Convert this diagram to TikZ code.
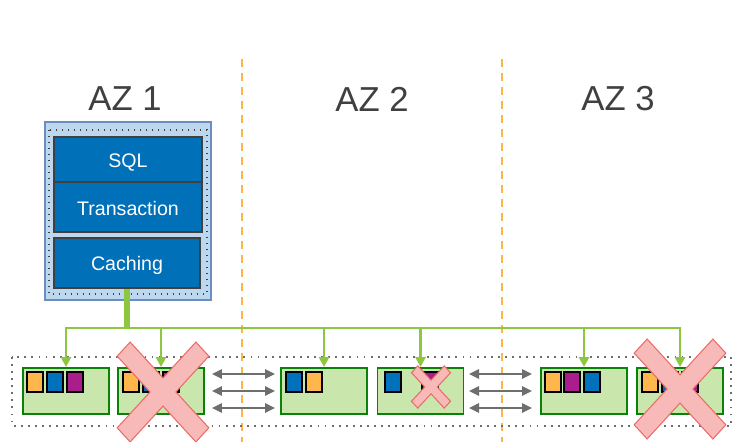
\documentclass[tikz,border=0pt]{standalone}
\usepackage{fontspec}
\setmainfont{Liberation Sans}
\usetikzlibrary{arrows.meta}
\definecolor{azgrey}{RGB}{64,64,64}
\definecolor{dbfill}{RGB}{189,215,238}
\definecolor{dbedge}{RGB}{108,142,191}
\definecolor{layfill}{RGB}{0,112,184}
\definecolor{layedge}{RGB}{64,64,64}
\definecolor{feedgreen}{RGB}{141,198,63}
\definecolor{stfill}{RGB}{201,231,172}
\definecolor{stedge}{RGB}{10,130,10}
\definecolor{korange}{RGB}{255,183,77}
\definecolor{kblue}{RGB}{0,114,188}
\definecolor{kpurple}{RGB}{170,30,140}
\definecolor{xfillc}{RGB}{248,185,185}
\definecolor{xedgec}{RGB}{234,107,102}
\definecolor{azline}{RGB}{255,180,70}
\definecolor{rgrey}{RGB}{110,110,110}
\newcommand\redcross[5]{%
  \begin{scope}[shift={(#1,#2)},yscale=#5]
    \foreach \a in {45,-45} \draw[xedge,rotate=\a] (-#3,-#4) rectangle (#3,#4);
    \foreach \a in {45,-45} \fill[xfill,rotate=\a] (-#3,-#4) rectangle (#3,#4);
  \end{scope}}
\begin{document}
\begin{tikzpicture}[x=0.75pt,y=-0.75pt,
  azlabel/.style={text=azgrey,font=\fontsize{26}{30}\selectfont,inner sep=0pt},
  azsep/.style={draw=azline,line width=1.5pt,dash pattern=on 6pt off 4.5pt},
  layer/.style={draw=layedge,fill=layfill,line width=1.2pt,text=white,
    font=\fontsize{14.7}{17}\selectfont,inner sep=0pt,text height=12pt,text depth=0pt,
    minimum width=111pt,minimum height=37.5pt},
  dbbox/.style={draw=dbedge,fill=dbfill,line width=1.1pt,inner sep=0pt,
    minimum width=124.5pt,minimum height=133.5pt},
  innerdots/.style={draw=azgrey,line width=1.1pt,dash pattern=on 1.1pt off 3.4pt},
  stdots/.style={draw=rgrey,line width=1.4pt,dash pattern=on 1.4pt off 3.9pt},
  store/.style={draw=stedge,fill=stfill,line width=1.4pt,inner sep=0pt,
    minimum width=64.5pt,minimum height=34.5pt},
  key/.style={draw=black,line width=1.1pt,inner sep=0pt,minimum width=12pt,minimum height=15pt},
  feed/.style={draw=feedgreen,line width=1.9pt,-{Triangle[width=7.5pt,length=7.5pt]}},
  trunk/.style={draw=feedgreen,line width=3.8pt},
  repl/.style={draw=rgrey,line width=1.5pt,
    {Triangle[width=7pt,length=7.5pt]}-{Triangle[width=7pt,length=7.5pt]}},
  xedge/.style={draw=xedgec,line width=1.8pt},
  xfill/.style={fill=xfillc}]
\useasboundingbox (0,0) rectangle (732,442);

% AZ separators and labels
\coordinate (d1t) at (242,59);
\coordinate (d1b) at (242,442);
\coordinate (d2t) at (502,59);
\coordinate (d2b) at (502,442);
\draw[azsep] (d1t) -- (d1b);
\draw[azsep] (d2t) -- (d2b);
\node[azlabel] (az1) at (125,99) {AZ 1};
\node[azlabel] (az2) at (372,99) {AZ 2};
\node[azlabel] (az3) at (618,99) {AZ 3};

% database stack
\node[dbbox] (db) at (128,211) {};
\draw[innerdots] (49,130) rectangle (207,294);
\node[layer,minimum height=33.75pt] (sql) at (128,159.5) {SQL};
\node[layer] (txn) at (128,207) {Transaction};
\node[layer,minimum width=109.5pt] (cache) at (127,263) {Caching};

% storage area
\draw[stdots] (12,357) rectangle (731,426);
\node[store] (s1) at (66,391) {};
\node[store] (s2) at (161,391) {};
\node[store] (s3) at (324,391) {};
\node[store] (s4) at (420.5,391) {};
\node[store] (s5) at (584,391) {};
\node[store] (s6) at (680,391) {};

% data blocks
\node[key,fill=korange] (k11) at (35,382) {};
\node[key,fill=kblue]   (k12) at (55,382) {};
\node[key,fill=kpurple] (k13) at (75,382) {};
\node[key,fill=korange] (k21) at (131,382) {};
\node[key,fill=kblue]   (k22) at (151,382) {};
\node[key,fill=kpurple] (k23) at (171,382) {};
\node[key,fill=kblue]   (k31) at (294,382) {};
\node[key,fill=korange] (k32) at (314,382) {};
\node[key,fill=kblue]   (k41) at (393,382) {};
\node[key,fill=kpurple] (k43) at (430,382) {};
\node[key,fill=korange] (k51) at (553,382) {};
\node[key,fill=kpurple] (k52) at (572,382) {};
\node[key,fill=kblue]   (k53) at (592,382) {};
\node[key,fill=korange] (k61) at (650,382) {};
\node[key,fill=kblue]   (k62) at (670,382) {};
\node[key,fill=kpurple] (k63) at (690,382) {};

% replication arrows
\foreach \dy in {12.75pt,0pt,-12.75pt}{
  \draw[repl] ([xshift=5.25pt,yshift=\dy]s2.east) -- ([xshift=-3.75pt,yshift=\dy]s3.west);
  \draw[repl] ([xshift=3.5pt,yshift=\dy]s4.east) -- ([xshift=-6pt,yshift=\dy]s5.west);
}

% failures
\redcross{163}{392}{55}{8.5}{1.09}
\redcross{431}{387}{22.5}{3.8}{1.08}
\redcross{680}{389}{55}{8.5}{1.09}

% feeders
\coordinate (j) at (127,328);
\draw[trunk] (cache.south) -- (j);
\foreach \s in {s1,s2,s3,s4,s5,s6}
  \draw[feed] (j) -| (\s.north);
\end{tikzpicture}
\end{document}
